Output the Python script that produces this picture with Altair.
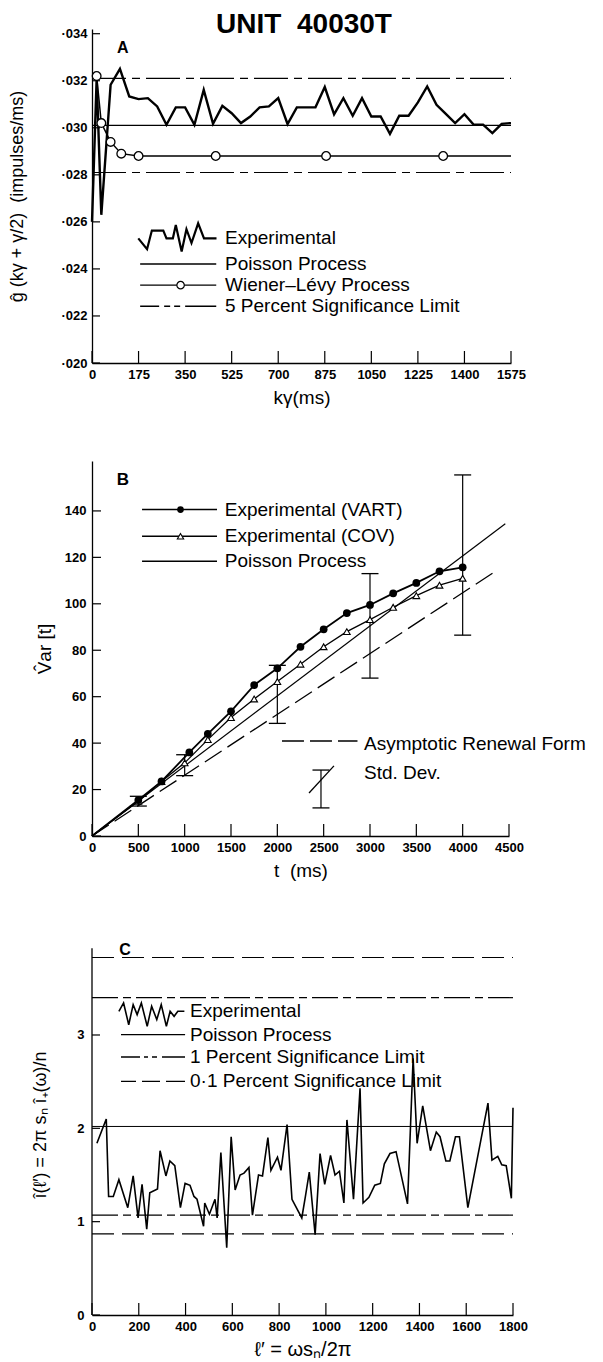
import altair as alt
import pandas as pd

FONT = "Liberation Sans"

# ======================= Panel A =======================
A_X_TICKS = [0, 175, 350, 525, 700, 875, 1050, 1225, 1400, 1575]
A_Y_TICKS = [0.020, 0.022, 0.024, 0.026, 0.028, 0.030, 0.032, 0.034]
A_K_EXP = [0, 17.5, 35, 70, 105, 140, 175, 210, 245, 280, 315, 350, 385, 420, 455,
           490, 525, 560, 595, 630, 665, 700, 735, 770, 805, 840, 875, 910, 945, 980,
           1015, 1050, 1085, 1120, 1155, 1190, 1225, 1260, 1295, 1330, 1365, 1400,
           1435, 1470, 1505, 1540, 1575]
A_G_EXP = [0.0260, 0.0321, 0.0263, 0.03183, 0.03250, 0.03133, 0.03122, 0.03126, 0.03091,
           0.03013, 0.03087, 0.03087, 0.03013, 0.03161, 0.03017, 0.03093, 0.03062, 0.03020,
           0.03048, 0.03087, 0.03091, 0.03126, 0.03016, 0.03087, 0.03087, 0.03087, 0.03173,
           0.03057, 0.03126, 0.03051, 0.03126, 0.03048, 0.03048, 0.02974, 0.03051, 0.03051,
           0.03108, 0.03176, 0.03098, 0.03059, 0.03020, 0.03058, 0.03013, 0.03013, 0.02977,
           0.03017, 0.03020]
A_K_WL = [17.5, 35, 70, 110, 175, 465, 880, 1320]
A_G_WL = [0.0322, 0.0302, 0.0294, 0.0289, 0.0288, 0.0288, 0.0288, 0.0288]
A_WL_END = [1575, 0.0288]
A_POISSON = 0.0301
A_LIMITS = [0.0321, 0.0281]
A_LEG_LABELS = ["Experimental", "Poisson Process", "Wiener–Lévy Process",
                "5 Percent Significance Limit"]
A_LEG_ROWS = [0.0253, 0.02421, 0.02331, 0.02241]
A_LEG_SPAN = [181, 467]
A_LEG_TEXT_K = 500
A_LEG_MARK_K = 333
A_LEG_ZIG_K = [174, 207, 225, 268, 280, 304, 315, 337, 355, 374, 399, 421, 468]
A_LEG_ZIG_G = [0.02530, 0.02484, 0.02563, 0.02563, 0.02530, 0.02530, 0.02587, 0.02474,
               0.02569, 0.02510, 0.02594, 0.02530, 0.02530]
A_TITLE = ["UNIT\u00a0\u00a040030T", 797, 0.03402]
A_LETTER = ["A", 116, 0.03339]

# ======================= Panel B =======================
B_X_TICKS = [0, 500, 1000, 1500, 2000, 2500, 3000, 3500, 4000, 4500]
B_Y_TICKS = [0, 20, 40, 60, 80, 100, 120, 140]
B_T_VART = [0, 500, 750, 1050, 1250, 1500, 1750, 2000, 2250, 2500, 2750, 3000, 3250,
            3500, 3750, 4000]
B_VART = [0, 15.5, 23.5, 36, 44, 53.7, 65, 72.2, 81.5, 89, 96, 99.5, 104.5, 109, 114, 115.7]
B_T_COV = [0, 500, 750, 1000, 1250, 1500, 1750, 2000, 2250, 2500, 2750, 3000, 3250,
           3500, 3750, 4000]
B_COV = [0, 15, 23.5, 31.5, 41.5, 51, 59, 66.5, 74, 81.5, 88, 93.2, 98.5, 103.5, 108, 111]
B_POIS_T = [0, 4460]
B_POIS_V = [0, 134.5]
B_ASYM_T = [0, 4380]
B_ASYM_V = [0, 114.7]
B_SD_T = [500, 1000, 2000, 3000, 4000]
B_SD_LO = [12.9, 26, 48.5, 68, 86.5]
B_SD_HI = [17.1, 35, 73.5, 113, 155.5]
B_LEG_LABELS = ["Experimental (VART)", "Experimental (COV)", "Poisson Process"]
B_LEG_ROWS = [140.6, 129.1, 118.3]
B_LEG_SPAN = [540, 1349]
B_LEG_MARK_T = 955
B_LEG_TEXT_T = 1433
B_LEG2_LABELS = ["Asymptotic Renewal Form", "Std.\u00a0Dev."]
B_LEG2_ROWS = [39.6, 27.1]
B_LEG2_TEXT_T = 2935
B_LEG2_DASH = [2050, 2865, 40.9]
B_LEG2_BAR = [2471, 12.1, 28.4]
B_LEG2_SLASH_T = [2342, 2611]
B_LEG2_SLASH_V = [18.5, 30.2]
B_LETTER = ["B", 333, 153.5]

# ======================= Panel C =======================
C_X_TICKS = [0, 200, 400, 600, 800, 1000, 1200, 1400, 1600, 1800]
C_Y_TICKS = [0, 1, 2, 3]
C_L = [21, 61, 71, 91, 115, 153, 176, 197, 214, 234, 247, 280, 291, 316, 333, 354, 378,
       398, 419, 436, 449, 477, 482, 502, 526, 535, 551, 576, 595, 612, 633, 650, 671,
       686, 712, 729, 752, 765, 793, 808, 834, 855, 897, 913, 929, 954, 975, 995, 1020,
       1039, 1058, 1077, 1090, 1118, 1146, 1159, 1184, 1209, 1233, 1250, 1274, 1300,
       1349, 1373, 1390, 1414, 1447, 1472, 1488, 1513, 1530, 1554, 1571, 1607, 1693,
       1710, 1735, 1752, 1771, 1793, 1800]
C_I = [1.84, 2.10, 1.27, 1.27, 1.45, 1.15, 1.49, 1.04, 1.40, 0.92, 1.31, 1.35, 1.76, 1.49,
       1.65, 1.60, 1.15, 1.41, 1.39, 1.27, 1.24, 0.95, 1.20, 1.08, 1.24, 1.04, 1.74, 0.72,
       1.91, 1.34, 1.50, 1.52, 1.58, 1.07, 1.50, 1.49, 1.90, 1.55, 1.69, 1.55, 2.04, 1.24,
       1.04, 1.28, 1.53, 0.86, 1.73, 1.40, 1.71, 1.50, 1.54, 1.20, 2.09, 1.24, 2.43, 1.20,
       1.26, 1.39, 1.41, 1.62, 1.73, 1.75, 1.19, 2.75, 1.84, 2.24, 1.76, 1.96, 1.91, 1.65,
       1.65, 1.91, 1.91, 1.15, 2.27, 1.66, 1.70, 1.61, 1.60, 1.25, 2.22]
C_POISSON = 2.02
C_LIM1 = [3.40, 1.07]
C_LIM01 = [3.83, 0.87]
C_AXIS_TOP = 3.93
C_LEG_LABELS = ["Experimental", "Poisson Process", "1 Percent Significance Limit",
                "0·1 Percent Significance Limit"]
C_LEG_ROWS = [3.257, 3.003, 2.764, 2.504]
C_LEG_SPAN = [124, 398]
C_LEG_TEXT_L = 419
C_LEG_ZIG_L = [115, 135, 157, 176, 193, 211, 236, 255, 277, 296, 318, 334, 351, 367, 395]
C_LEG_ZIG_I = [3.254, 3.343, 3.11, 3.325, 3.218, 3.343, 3.093, 3.308, 3.165, 3.325, 3.093,
               3.254, 3.2, 3.254, 3.254]
C_LETTER = ["C", 141, 3.91]

# ======================= helpers =======================
AXIS_STYLE = dict(ticks=False, grid=False, domainColor="black", domainWidth=1.3,
                  labelColor="black", titleColor="black", labelFont=FONT, titleFont=FONT,
                  labelFontWeight="bold", titleFontWeight="normal", labelFlush=False,
                  labelOverlap=False)


def encoders(xdom, ydom, xaxis, yaxis):
    sx = alt.Scale(domain=xdom, nice=False, zero=False)
    sy = alt.Scale(domain=ydom, nice=False, zero=False)

    def X(f):
        return alt.X(f, type="quantitative", scale=sx, axis=xaxis)

    def Y(f):
        return alt.Y(f, type="quantitative", scale=sy, axis=yaxis)
    return X, Y


def hrules(X, Y, x0, x1, ys, dash, width=1.2):
    df = pd.DataFrame({"a": [x0] * len(ys), "b": [x1] * len(ys), "v": ys})
    kw = dict(color="black", strokeWidth=width)
    if dash:
        kw["strokeDash"] = dash
    return alt.Chart(df).mark_rule(**kw).encode(x=X("a"), x2=alt.X2("b"), y=Y("v"))


def ticks(X, Y, xt, yt, h, xlen, ylen):
    tx = alt.Chart(pd.DataFrame({"t": xt})).mark_rule(color="black", strokeWidth=1.2).encode(
        x=X("t"), y=alt.value(h), y2=alt.value(h - xlen))
    ty = alt.Chart(pd.DataFrame({"t": yt})).mark_rule(color="black", strokeWidth=1.2).encode(
        y=Y("t"), x=alt.value(0), x2=alt.value(ylen))
    return [tx, ty]


def texts(X, Y, xs, ys, labels, size, weight="normal", align="left"):
    df = pd.DataFrame({"x": xs, "y": ys, "s": labels})
    return alt.Chart(df).mark_text(align=align, baseline="middle", fontSize=size,
                                   fontWeight=weight, font=FONT, color="black").encode(
        x=X("x"), y=Y("y"), text="s:N")


# ======================= Panel A chart =======================
A_W, A_H = 419, 334
a_xaxis = alt.Axis(values=A_X_TICKS, title="kγ(ms)", format="d", labelFontSize=13,
                   labelPadding=5, titleFontSize=19, titlePadding=7, **AXIS_STYLE)
a_yaxis = alt.Axis(values=A_Y_TICKS, title="ĝ (kγ + γ/2)\u00a0\u00a0(impulses/ms)",
                   labelExpr="'·' + substring(format(datum.value, '.3f'), 2)",
                   labelFontSize=13, labelPadding=5, titleFontSize=18, titlePadding=34,
                   **AXIS_STYLE)
AX, AY = encoders([0, 1575], [0.020, 0.0342], a_xaxis, a_yaxis)

a_layers = []
a_layers.append(hrules(AX, AY, 0, 1575, [A_POISSON], None, 1.2))
a_layers.append(hrules(AX, AY, 0, 1575, A_LIMITS, [34, 6, 8, 6], 1.2))
wl_line = pd.DataFrame({"k": A_K_WL + [A_WL_END[0]], "g": A_G_WL + [A_WL_END[1]]})
a_layers.append(alt.Chart(wl_line).mark_line(color="black", strokeWidth=1.5).encode(
    x=AX("k"), y=AY("g")))
a_layers.append(alt.Chart(pd.DataFrame({"k": A_K_EXP, "g": A_G_EXP})).mark_line(
    color="black", strokeWidth=2.4).encode(x=AX("k"), y=AY("g")))
wl_pts = pd.DataFrame({"k": A_K_WL, "g": A_G_WL})
a_layers.append(alt.Chart(wl_pts).mark_point(shape="circle", filled=True, fill="white",
                                             stroke="black", strokeWidth=1.3, size=75,
                                             opacity=1).encode(x=AX("k"), y=AY("g")))
a_layers += ticks(AX, AY, A_X_TICKS, A_Y_TICKS, A_H, 12, 8)
# legend
a_layers.append(alt.Chart(pd.DataFrame({"k": A_LEG_ZIG_K, "g": A_LEG_ZIG_G})).mark_line(
    color="black", strokeWidth=2.2).encode(x=AX("k"), y=AY("g")))
a_layers.append(hrules(AX, AY, A_LEG_SPAN[0], A_LEG_SPAN[1], A_LEG_ROWS[1:3], None, 1.4))
a_layers.append(hrules(AX, AY, A_LEG_SPAN[0], A_LEG_SPAN[1], A_LEG_ROWS[3:], [19, 5, 6, 4, 6, 5, 32, 4], 1.4))
a_layers.append(alt.Chart(pd.DataFrame({"k": [A_LEG_MARK_K], "g": [A_LEG_ROWS[2]]})).mark_point(
    shape="circle", filled=True, fill="white", stroke="black", strokeWidth=1.2, size=55,
    opacity=1).encode(x=AX("k"), y=AY("g")))
a_layers.append(texts(AX, AY, [A_LEG_TEXT_K] * 4, A_LEG_ROWS, A_LEG_LABELS, 19))
a_layers.append(texts(AX, AY, [A_LETTER[1]], [A_LETTER[2]], [A_LETTER[0]], 16, "bold", "center"))
a_layers.append(alt.Chart(pd.DataFrame({"x": [A_TITLE[1]], "y": [A_TITLE[2]], "s": [A_TITLE[0]]})).mark_text(
    align="center", baseline="alphabetic", fontSize=28, fontWeight="bold", font=FONT,
    color="black").encode(x=AX("x"), y=AY("y"), text="s:N"))
panel_a = alt.layer(*a_layers).properties(width=A_W, height=A_H)

# ======================= Panel B chart =======================
B_W, B_H = 417, 375
b_xaxis = alt.Axis(values=B_X_TICKS, title="t\u00a0\u00a0(ms)", format="d", labelFontSize=13,
                   labelPadding=5, titleFontSize=19, titlePadding=7, **AXIS_STYLE)
b_yaxis = alt.Axis(values=B_Y_TICKS, title="V\u0302ar [t]", format="d", labelFontSize=13,
                   labelPadding=6, titleFontSize=19, titleX=-48, titleBaseline="middle",
                   **AXIS_STYLE)
BX, BY = encoders([0, 4500], [0, 161.5], b_xaxis, b_yaxis)

b_layers = []
b_layers.append(alt.Chart(pd.DataFrame({"t": B_POIS_T, "v": B_POIS_V})).mark_line(
    color="black", strokeWidth=1.2).encode(x=BX("t"), y=BY("v")))
b_layers.append(alt.Chart(pd.DataFrame({"t": B_ASYM_T, "v": B_ASYM_V})).mark_line(
    color="black", strokeWidth=1.3, strokeDash=[20, 7]).encode(x=BX("t"), y=BY("v")))
sd = pd.DataFrame({"t": B_SD_T, "lo": B_SD_LO, "hi": B_SD_HI})
b_layers.append(alt.Chart(sd).mark_rule(color="black", strokeWidth=1.2).encode(
    x=BX("t"), y=BY("lo"), y2=alt.Y2("hi")))
b_layers.append(alt.Chart(sd).mark_tick(orient="horizontal", size=17, thickness=1.3,
                                        color="black", opacity=1).encode(x=BX("t"), y=BY("lo")))
b_layers.append(alt.Chart(sd).mark_tick(orient="horizontal", size=17, thickness=1.3,
                                        color="black", opacity=1).encode(x=BX("t"), y=BY("hi")))
cov = pd.DataFrame({"t": B_T_COV, "v": B_COV})
vart = pd.DataFrame({"t": B_T_VART, "v": B_VART})
b_layers.append(alt.Chart(cov).mark_line(color="black", strokeWidth=1.3).encode(
    x=BX("t"), y=BY("v")))
b_layers.append(alt.Chart(vart).mark_line(color="black", strokeWidth=1.8).encode(
    x=BX("t"), y=BY("v")))
b_layers.append(alt.Chart(cov[cov.t > 0]).mark_point(shape="triangle-up", filled=True,
                                                     fill="white", stroke="black",
                                                     strokeWidth=1.1, size=45, opacity=1).encode(
    x=BX("t"), y=BY("v")))
b_layers.append(alt.Chart(vart[vart.t > 0]).mark_point(shape="circle", filled=True,
                                                       color="black", size=60, opacity=1).encode(
    x=BX("t"), y=BY("v")))
b_layers += ticks(BX, BY, B_X_TICKS, B_Y_TICKS, B_H, 12, 9)
# legend
b_layers.append(hrules(BX, BY, B_LEG_SPAN[0], B_LEG_SPAN[1], B_LEG_ROWS, None, 1.4))
b_layers.append(alt.Chart(pd.DataFrame({"t": [B_LEG_MARK_T], "v": [B_LEG_ROWS[0]]})).mark_point(
    shape="circle", filled=True, color="black", size=45, opacity=1).encode(x=BX("t"), y=BY("v")))
b_layers.append(alt.Chart(pd.DataFrame({"t": [B_LEG_MARK_T], "v": [B_LEG_ROWS[1]]})).mark_point(
    shape="triangle-up", filled=True, fill="white", stroke="black", strokeWidth=1.1, size=40,
    opacity=1).encode(x=BX("t"), y=BY("v")))
b_layers.append(texts(BX, BY, [B_LEG_TEXT_T] * 3, B_LEG_ROWS, B_LEG_LABELS, 19))
b_layers.append(hrules(BX, BY, B_LEG2_DASH[0], B_LEG2_DASH[1], [B_LEG2_DASH[2]], [22, 6], 1.4))
b_layers.append(alt.Chart(pd.DataFrame({"t": [B_LEG2_BAR[0]], "lo": [B_LEG2_BAR[1]],
                                        "hi": [B_LEG2_BAR[2]]})).mark_rule(
    color="black", strokeWidth=1.2).encode(x=BX("t"), y=BY("lo"), y2=alt.Y2("hi")))
b_layers.append(alt.Chart(pd.DataFrame({"t": [B_LEG2_BAR[0]] * 2, "v": B_LEG2_BAR[1:]})).mark_tick(
    orient="horizontal", size=17, thickness=1.3, color="black", opacity=1).encode(
    x=BX("t"), y=BY("v")))
b_layers.append(alt.Chart(pd.DataFrame({"t": B_LEG2_SLASH_T, "v": B_LEG2_SLASH_V})).mark_line(
    color="black", strokeWidth=1.3).encode(x=BX("t"), y=BY("v")))
b_layers.append(texts(BX, BY, [B_LEG2_TEXT_T] * 2, B_LEG2_ROWS, B_LEG2_LABELS, 19))
b_layers.append(texts(BX, BY, [B_LETTER[1]], [B_LETTER[2]], [B_LETTER[0]], 17, "bold", "center"))
panel_b = alt.layer(*b_layers).properties(width=B_W, height=B_H)

# ======================= Panel C chart =======================
C_W, C_H = 421, 381
c_xaxis = alt.Axis(values=C_X_TICKS, title="ℓ′ = ωsₙ/2π", format="d", labelFontSize=13,
                   labelPadding=5, titleFontSize=20, titlePadding=6, **AXIS_STYLE)
c_style = dict(AXIS_STYLE)
c_style["domain"] = False
c_yaxis = alt.Axis(values=C_Y_TICKS, title="î(ℓ′)\u00a0=\u00a02π\u00a0sₙ\u00a0î₊(ω)/n",
                   format="d", labelFontSize=13, labelPadding=8, titleFontSize=18,
                   titleX=-52, titleBaseline="middle", **c_style)
CX, CY = encoders([0, 1800], [0, 4.082], c_xaxis, c_yaxis)

c_layers = []
c_layers.append(alt.Chart(pd.DataFrame({"l": [0], "a": [0], "b": [C_AXIS_TOP]})).mark_rule(
    color="black", strokeWidth=1.3).encode(x=CX("l"), y=CY("a"), y2=alt.Y2("b")))
c_layers.append(hrules(CX, CY, 0, 1800, [C_POISSON], None, 1.0))
c_layers.append(hrules(CX, CY, 0, 1800, C_LIM1, [26, 5, 8, 5], 1.2))
c_layers.append(hrules(CX, CY, 0, 1800, C_LIM01, [22, 8], 1.2))
c_layers.append(alt.Chart(pd.DataFrame({"l": C_L, "i": C_I})).mark_line(
    color="black", strokeWidth=1.6).encode(x=CX("l"), y=CY("i")))
c_layers += ticks(CX, CY, C_X_TICKS, C_Y_TICKS, C_H, 12, 8)
# legend
c_layers.append(alt.Chart(pd.DataFrame({"l": C_LEG_ZIG_L, "i": C_LEG_ZIG_I})).mark_line(
    color="black", strokeWidth=1.6).encode(x=CX("l"), y=CY("i")))
c_layers.append(hrules(CX, CY, C_LEG_SPAN[0], C_LEG_SPAN[1], [C_LEG_ROWS[1]], None, 1.3))
c_layers.append(hrules(CX, CY, C_LEG_SPAN[0], C_LEG_SPAN[1], [C_LEG_ROWS[2]], [19, 4, 4, 4, 5, 5, 23, 2], 1.3))
c_layers.append(hrules(CX, CY, C_LEG_SPAN[0], C_LEG_SPAN[1], [C_LEG_ROWS[3]], [15, 6, 18, 6, 19, 2], 1.3))
c_layers.append(texts(CX, CY, [C_LEG_TEXT_L] * 4, C_LEG_ROWS, C_LEG_LABELS, 19))
c_layers.append(texts(CX, CY, [C_LETTER[1]], [C_LETTER[2]], [C_LETTER[0]], 16, "bold", "center"))
panel_c = alt.layer(*c_layers).properties(width=C_W, height=C_H)

chart = alt.vconcat(panel_a, panel_b, panel_c, spacing=98, bounds="flush").properties(
    padding={"left": 0, "top": 3, "right": 0, "bottom": 0}
).configure(font=FONT).configure_view(stroke=None)

chart.save("out.html", embed_options={"renderer": "svg", "actions": False})
